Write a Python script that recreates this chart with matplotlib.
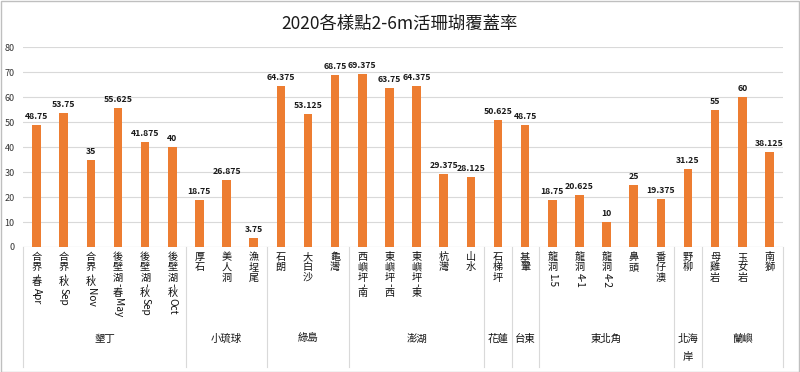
import matplotlib
matplotlib.use("Agg")
import matplotlib.pyplot as plt
import matplotlib.transforms as mtransforms
from matplotlib.patches import Rectangle

plt.rcParams['font.family'] = ['Noto Sans CJK TC', 'DejaVu Sans']

title = "2020各樣點2-6m活珊瑚覆蓋率"
groups = ["墾丁", "小琉球", "綠島", "澎湖", "花蓮", "台東", "東北角", "北海岸", "蘭嶼"]
group_sizes = [6, 3, 3, 5, 1, 1, 5, 1, 3]
group_lines = [["墾丁"], ["小琉球"], ["綠島"], ["澎湖"], ["花蓮"], ["台東"], ["東北角"], ["北海", "岸"], ["蘭嶼"]]
sites = ["合界-春Apr", "合界-秋Sep", "合界-秋Nov", "後壁湖-春May", "後壁湖-秋Sep", "後壁湖-秋Oct",
         "厚石", "美人洞", "漁埕尾",
         "石朗", "大白沙", "龜灣",
         "西嶼坪-南", "東嶼坪-西", "東嶼坪-東", "杭灣", "山水",
         "石梯坪",
         "基翬",
         "龍洞1.5", "龍洞4-1", "龍洞4-2", "鼻頭", "番仔澳",
         "野柳",
         "母雞岩", "玉女岩", "南獅"]
cover = [48.75, 53.75, 35, 55.625, 41.875, 40,
         18.75, 26.875, 3.75,
         64.375, 53.125, 68.75,
         69.375, 63.75, 64.375, 29.375, 28.125,
         50.625,
         48.75,
         18.75, 20.625, 10, 25, 19.375,
         31.25,
         55, 60, 38.125]
yticks = [0, 10, 20, 30, 40, 50, 60, 70, 80]

W, H = 800, 372
fig = plt.figure(figsize=(W / 100, H / 100), dpi=100)
ax = fig.add_axes([23 / W, (H - 247) / H, 760 / W, 200 / H])

bar_color = "#ED7D31"
n = len(sites)
xs = list(range(n))
ax.bar(xs, cover, width=0.32, color=bar_color, zorder=3)
ax.set_xlim(-0.5, n - 0.5)
ax.set_ylim(0, 80)
ax.set_yticks(yticks)
ax.set_yticklabels([str(v) for v in yticks], fontsize=6.5, color="#333333")
ax.tick_params(axis='y', length=0, pad=6)
ax.set_xticks([])
ax.grid(axis='y', color="#d9d9d9", linewidth=0.8, zorder=0)
for s in ax.spines.values():
    s.set_visible(False)
ax.axhline(0, color="#d9d9d9", linewidth=0.8, zorder=2)

for x, v in zip(xs, cover):
    ax.annotate(f"{v:g}", (x, v), xytext=(0, 4), textcoords='offset pixels',
                ha='center', va='bottom', fontsize=6.3, fontweight='bold', color="#1a1a1a")

# title
fig.text(0.5, 1 - 24 / H, title, ha='center', va='center', fontsize=12.5, color="#1a1a1a")

# group separators
blend = mtransforms.blended_transform_factory(ax.transData, ax.transAxes)
bounds = [-0.5]
for gs in group_sizes:
    bounds.append(bounds[-1] + gs)
for b in bounds:
    ax.plot([b, b], [0, -0.6], transform=blend, color="#d9d9d9", linewidth=0.8, clip_on=False)

# group labels
for gi, lines in enumerate(group_lines):
    cx = (bounds[gi] + bounds[gi + 1]) / 2
    for k, ln in enumerate(lines):
        ypix = 339 + 18 * k
        ax.text(cx, (247 - ypix) / 200, ln, transform=blend, ha='center', va='center',
                fontsize=7.5, color="#111111")

# stacked vertical category labels
renderer = fig.canvas.get_renderer()
fs = 7.3
step_cjk = fs * 100 / 72 * 1.02


def is_cjk(ch):
    return ord(ch) >= 0x2E80


for x, name in zip(xs, sites):
    runs = []
    for ch in name:
        if is_cjk(ch):
            runs.append((ch, True))
        else:
            if runs and not runs[-1][1]:
                runs[-1] = (runs[-1][0] + ch, False)
            else:
                runs.append((ch, False))
    off = 5.0
    for txt, cjk in runs:
        tr = mtransforms.offset_copy(blend, fig=fig, x=0, y=-off, units='dots')
        if cjk:
            ax.text(x, 0, txt, transform=tr, ha='center', va='top', fontsize=fs, color="#111111")
            off += step_cjk
        else:
            t = ax.text(x, 0, txt, transform=tr, ha='center', va='top', fontsize=fs,
                        rotation=-90, color="#111111")
            ext = t.get_window_extent(renderer)
            off += ext.height + 1

fig.patches.append(Rectangle((0.5 / W, 0.5 / H), 1 - 1.5 / W, 1 - 1.5 / H, transform=fig.transFigure,
                             fill=False, edgecolor="#bfbfbf", linewidth=1))

fig.savefig("out.png", dpi=100)
